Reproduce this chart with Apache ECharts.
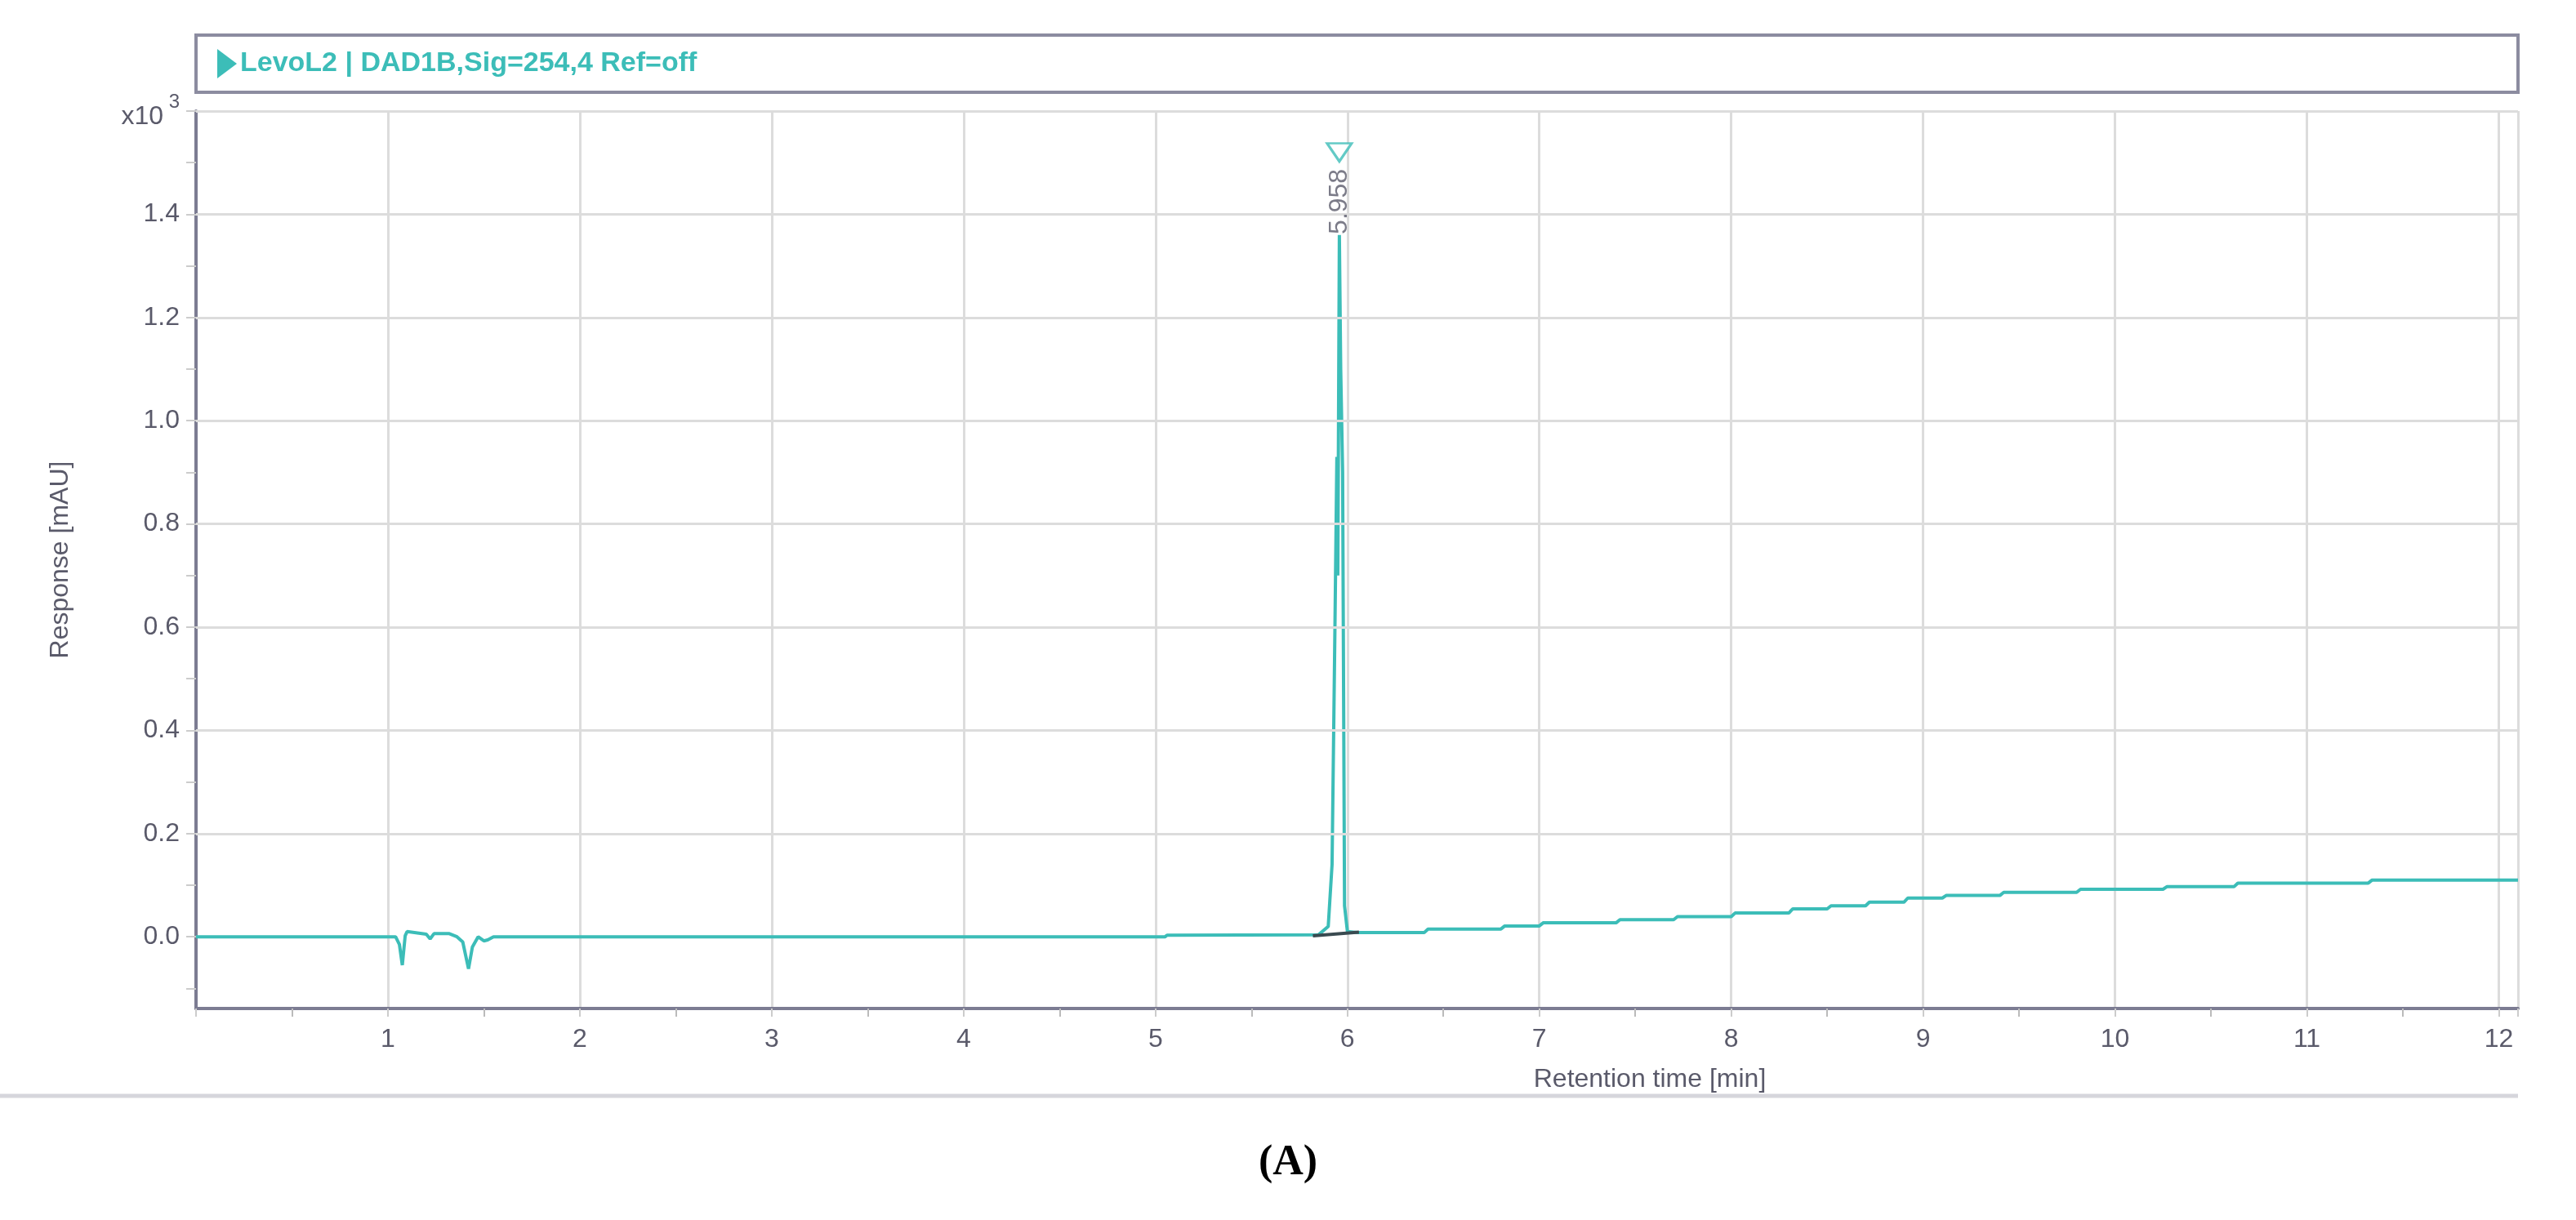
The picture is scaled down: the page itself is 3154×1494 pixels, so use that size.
<!DOCTYPE html>
<html>
<head>
<meta charset="utf-8">
<script src="https://cdn.jsdelivr.net/npm/echarts@6/dist/echarts.min.js"></script>
<style>
html,body{margin:0;padding:0;background:#fff;}
#main{width:3154px;height:1494px;}
</style>
</head>
<body>
<div id="main"></div>
<script>
// retention time (min) / response (x10^3 mAU)
var timeData = [0, 1.04, 1.06, 1.075, 1.09, 1.1, 1.2, 1.22, 1.24, 1.32, 1.36, 1.39, 1.42, 1.44, 1.47, 1.5, 1.52, 1.55, 5.05, 5.06, 5.85, 5.9, 5.92, 5.935, 5.945, 5.95, 5.958, 5.965, 5.975, 5.985, 6.0, 6.05,
    6.4, 6.42, 6.8, 6.82, 7.0, 7.02, 7.4, 7.42, 7.7, 7.72, 8.0, 8.02, 8.3, 8.32, 8.5, 8.52, 8.7, 8.72, 8.9, 8.92, 9.1, 9.12, 9.4, 9.42, 9.8, 9.82, 10.25, 10.27, 10.62, 10.64, 11.32, 11.34, 12.1];
var respData = [0, 0, -0.015, -0.055, 0.002, 0.01, 0.005, -0.004, 0.006, 0.006, 0.0, -0.01, -0.062, -0.02, 0.0, -0.008, -0.006, 0, 0, 0.003, 0.004, 0.02, 0.14, 0.6, 0.93, 0.7, 1.36, 1.1, 0.9, 0.06, 0.01, 0.008,
    0.008, 0.015, 0.015, 0.021, 0.021, 0.027, 0.027, 0.033, 0.033, 0.039, 0.039, 0.046, 0.046, 0.054, 0.054, 0.06, 0.06, 0.067, 0.067, 0.075, 0.075, 0.08, 0.08, 0.086, 0.086, 0.092, 0.092, 0.097, 0.097, 0.104, 0.104, 0.11, 0.11];
var baseTime = [5.82, 6.06];
var baseResp = [0.002, 0.009];
var peakTime = 5.958;
var peakMark = 1.52;
var yLabels = [0, 0.2, 0.4, 0.6, 0.8, 1.0, 1.2, 1.4, 1.6];
var yTicks = [-0.1, 0, 0.1, 0.2, 0.3, 0.4, 0.5, 0.6, 0.7, 0.8, 0.9, 1.0, 1.1, 1.2, 1.3, 1.4, 1.5, 1.6];
var gridLines = [0.2, 0.4, 0.6, 0.8, 1.0, 1.2, 1.4, 1.6];

var teal = '#3cbdb8';
var axisCol = '#7c7c92';
var txtCol = '#5a5a6a';
var font = 'Liberation Sans';

function zip(a, b) { return a.map(function (v, i) { return [v, b[i]]; }); }

var myChart = echarts.init(document.getElementById('main'));
var option = {
    animation: false,
    backgroundColor: '#fff',
    grid: { left: 240, right: 71, top: 136, bottom: 1494 - 1235 },
    xAxis: {
        type: 'value', min: 0, max: 12.1, interval: 1,
        axisLine: { show: true, onZero: false, lineStyle: { color: axisCol, width: 4 } },
        axisTick: { show: true, length: 10, lineStyle: { color: '#ccc', width: 2 } },
        minorTick: { show: true, splitNumber: 2, length: 10, lineStyle: { color: '#bbb', width: 2 } },
        splitLine: { show: true, lineStyle: { color: '#dcdcdc', width: 3 } },
        axisLabel: {
            fontFamily: font, fontSize: 32, color: txtCol, margin: 22,
            formatter: function (v) { return v === 0 ? '' : v; }
        }
    },
    yAxis: {
        type: 'value', min: -0.139, max: 1.6,
        axisLine: { show: true, lineStyle: { color: axisCol, width: 4 } },
        axisTick: { show: true, customValues: yTicks, length: 12, lineStyle: { color: '#ccc', width: 2 } },
        splitLine: { show: false },
        axisLabel: {
            customValues: yLabels, fontFamily: font, fontSize: 32, color: txtCol, margin: 20,
            formatter: function (v) { return v > 1.55 ? '{b|x10}{s| 3}' : v.toFixed(1); },
            rich: {
                b: { fontFamily: font, fontSize: 32, color: txtCol, padding: [14, 0, 0, 0] },
                s: { fontFamily: font, fontSize: 24, color: txtCol, verticalAlign: 'top', padding: [0, 0, 14, 0] }
            }
        },
        name: 'Response [mAU]', nameLocation: 'middle', nameGap: 150, nameRotate: 90,
        nameTextStyle: { fontFamily: font, fontSize: 32, color: txtCol }
    },
    series: [
        {
            type: 'line', data: zip(timeData, respData), symbol: 'none',
            lineStyle: { color: teal, width: 4 }, z: 3,
            markLine: {
                silent: true, symbol: 'none', label: { show: false },
                lineStyle: { color: '#dcdcdc', width: 3, type: 'solid' },
                data: gridLines.map(function (g) { return { yAxis: g }; })
            }
        },
        {
            type: 'line', data: zip(baseTime, baseResp), symbol: 'none',
            lineStyle: { color: '#3a4a50', width: 4 }, z: 4
        },
        {
            type: 'scatter', data: [[peakTime, peakMark]], symbol: 'triangle', symbolRotate: 180,
            symbolSize: [30, 22], itemStyle: { color: '#fff', borderColor: teal, borderWidth: 3 }, z: 5,
            label: {
                show: true, formatter: String(peakTime), position: 'bottom', rotate: 90, distance: 8,
                align: 'right', verticalAlign: 'middle',
                fontFamily: font, fontSize: 32, color: txtCol
            }
        }
    ],
    graphic: [
        { type: 'rect', shape: { x: 240, y: 43, width: 3154 - 71 - 240, height: 70 }, style: { fill: '#fff', stroke: '#8c8ca0', lineWidth: 4 }, z: 100 },
        { type: 'polygon', shape: { points: [[266, 60], [266, 96], [290, 78]] }, style: { fill: teal }, z: 101 },
        { type: 'text', x: 294, y: 78, style: { text: 'LevoL2 | DAD1B,Sig=254,4 Ref=off', fontFamily: font, fontSize: 34, fontWeight: 'bold', fill: teal, verticalAlign: 'middle' }, z: 101 },
        { type: 'text', x: 2020, y: 1322, style: { text: 'Retention time [min]', fontFamily: font, fontSize: 32, fill: txtCol, align: 'center', verticalAlign: 'middle' }, z: 100 },
        { type: 'line', shape: { x1: 0, y1: 1342, x2: 3083, y2: 1342 }, style: { stroke: '#d6d6dc', lineWidth: 5 }, z: 100 },
        { type: 'text', x: 1577, y: 1425, style: { text: '(A)', fontFamily: 'Liberation Serif', fontSize: 52, fontWeight: 'bold', fill: '#000', align: 'center', verticalAlign: 'middle' }, z: 100 }
    ]
};
myChart.setOption(option);
</script>
</body>
</html>
